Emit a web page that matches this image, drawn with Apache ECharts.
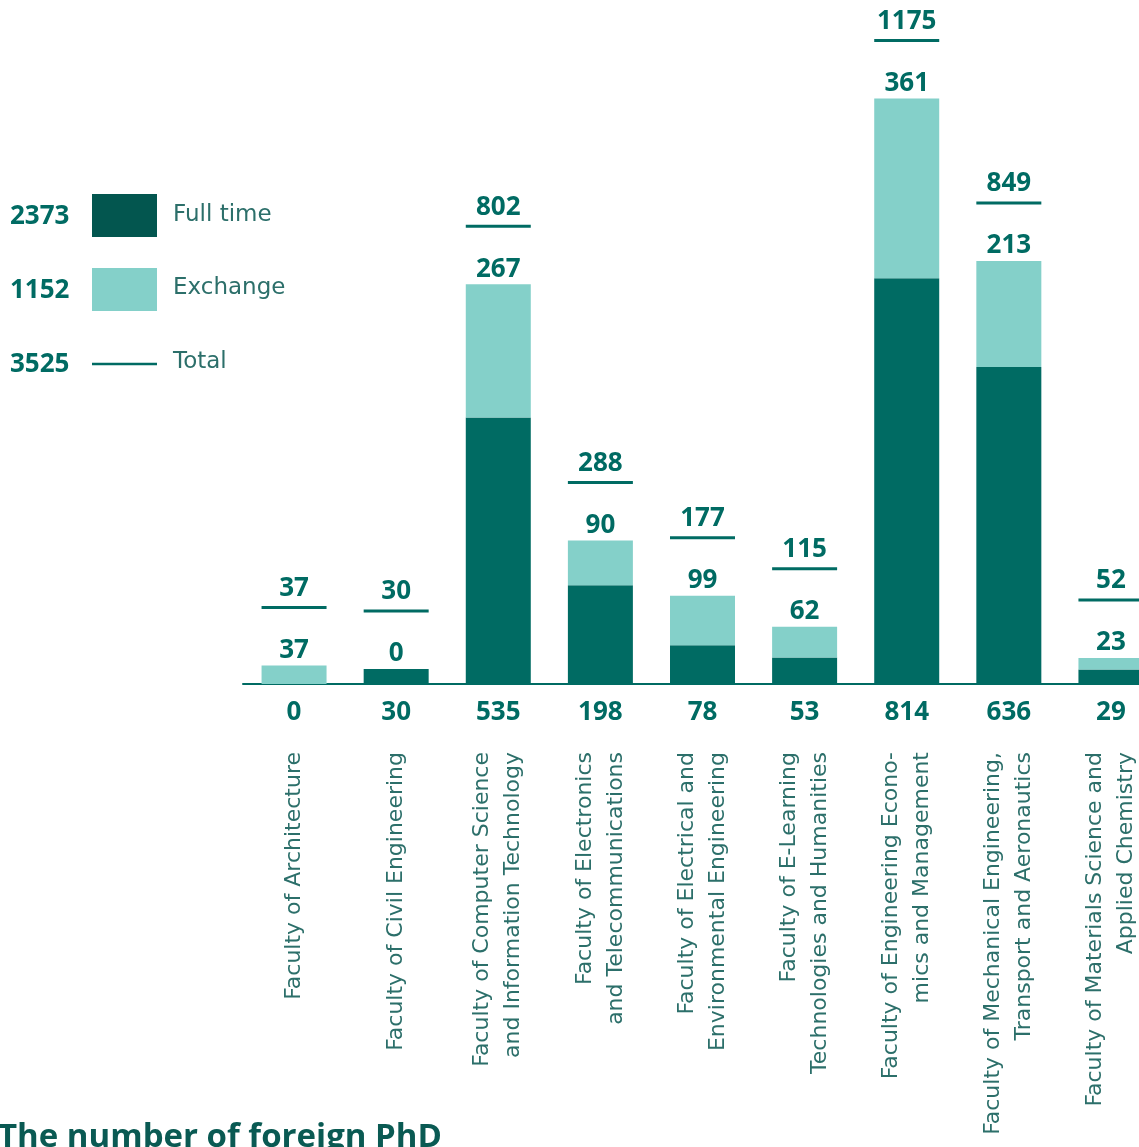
<!DOCTYPE html>
<html>
<head>
<meta charset="utf-8">
<script src="https://cdn.jsdelivr.net/npm/echarts@6/dist/echarts.min.js"></script>
<style>
  html, body { margin: 0; padding: 0; background: #fff; }
  #chart { width: 1139px; height: 1147px; }
</style>
</head>
<body>
<div id="chart"></div>
<script>
const faculties = [
  'Faculty of Architecture',
  'Faculty of Civil Engineering',
  'Faculty of Computer Science\nand Information Technology',
  'Faculty of Electronics\nand Telecommunications',
  'Faculty of Electrical and\nEnvironmental Engineering',
  'Faculty of E-Learning\nTechnologies and Humanities',
  'Faculty of Engineering Econo-\nmics and Management',
  'Faculty of Mechanical Engineering,\nTransport and Aeronautics',
  'Faculty of Materials Science and\nApplied Chemistry'
]
const fullTime = [0, 30, 535, 198, 78, 53, 814, 636, 29]
const exchange = [37, 0, 267, 90, 99, 62, 361, 213, 23]
const totals = [37, 30, 802, 288, 177, 115, 1175, 849, 52]

const sum = arr => arr.reduce((a, b) => a + b, 0)

const darkColor = '#006b63'
const lightColor = '#84d0c9'
const textColor = '#2c6f6a'
const fontName = 'Open Sans'
const labelFont = 'DejaVu Sans'

const chart = echarts.init(document.getElementById('chart'))

chart.setOption({
  animation: false,
  grid: {
    left: 243,
    width: 919,
    top: 86,
    height: 598,
    outerBoundsMode: 'none',
  },
  xAxis: {
    type: 'category',
    data: faculties,
    axisLine: { lineStyle: { color: darkColor, width: 2 } },
    axisTick: { show: false },
    axisLabel: {
      rotate: 90,
      margin: 68,
      color: textColor,
      fontFamily: labelFont,
      fontSize: 22,
      lineHeight: 31,
      interval: 0,
    },
  },
  yAxis: {
    type: 'value',
    min: 0,
    max: 1200,
    show: false,
    splitLine: { show: false },
  },
  series: [
    {
      name: 'Full time',
      type: 'bar',
      stack: 'all',
      data: fullTime,
      barWidth: 65,
      itemStyle: { color: darkColor },
      label: {
        show: true,
        position: 'bottom',
        distance: 16,
        color: darkColor,
        fontFamily: fontName,
        fontWeight: 'bold',
        fontSize: 26,
      },
    },
    {
      name: 'Exchange',
      type: 'bar',
      stack: 'all',
      data: exchange,
      barWidth: 65,
      itemStyle: { color: lightColor },
      label: {
        show: true,
        position: 'top',
        distance: 2,
        color: darkColor,
        fontFamily: fontName,
        fontWeight: 'bold',
        fontSize: 26,
      },
    },
    {
      name: 'Total',
      type: 'custom',
      data: totals.map((t, i) => [i, t]),
      renderItem: (params, api) => {
        const p = api.coord([api.value(0), api.value(1)])
        return {
          type: 'group',
          children: [
            {
              type: 'line',
              shape: { x1: p[0] - 32.5, y1: p[1] - 58, x2: p[0] + 32.5, y2: p[1] - 58 },
              style: { stroke: darkColor, lineWidth: 3 },
            },
            {
              type: 'text',
              x: p[0],
              y: p[1] - 77,
              style: {
                text: String(api.value(1)),
                fill: darkColor,
                font: 'bold 26px ' + fontName,
                align: 'center',
                verticalAlign: 'middle',
              },
            },
          ],
        }
      },
    },
  ],
  graphic: [
    // legend
    { type: 'text', left: 10, top: 204, style: { text: String(sum(fullTime)), fill: darkColor, font: 'bold 26px ' + fontName } },
    { type: 'rect', shape: { x: 92, y: 194, width: 65, height: 43 }, style: { fill: '#03564f' } },
    { type: 'text', left: 173, top: 204, style: { text: 'Full time', fill: textColor, font: '23px ' + labelFont } },

    { type: 'text', left: 10, top: 278, style: { text: String(sum(exchange)), fill: darkColor, font: 'bold 26px ' + fontName } },
    { type: 'rect', shape: { x: 92, y: 268, width: 65, height: 43 }, style: { fill: lightColor } },
    { type: 'text', left: 173, top: 277, style: { text: 'Exchange', fill: textColor, font: '23px ' + labelFont } },

    { type: 'text', left: 10, top: 352, style: { text: String(sum(totals)), fill: darkColor, font: 'bold 26px ' + fontName } },
    { type: 'line', shape: { x1: 92, y1: 364, x2: 157, y2: 364 }, style: { stroke: darkColor, lineWidth: 2.5 } },
    { type: 'text', left: 173, top: 351, style: { text: 'Total', fill: textColor, font: '23px ' + labelFont } },

    // title, cut off at the bottom edge
    { type: 'text', left: -2, top: 1121, style: { text: 'The number of foreign PhD', fill: '#0a5a53', font: 'bold 33px ' + fontName } },
  ],
})
</script>
</body>
</html>
